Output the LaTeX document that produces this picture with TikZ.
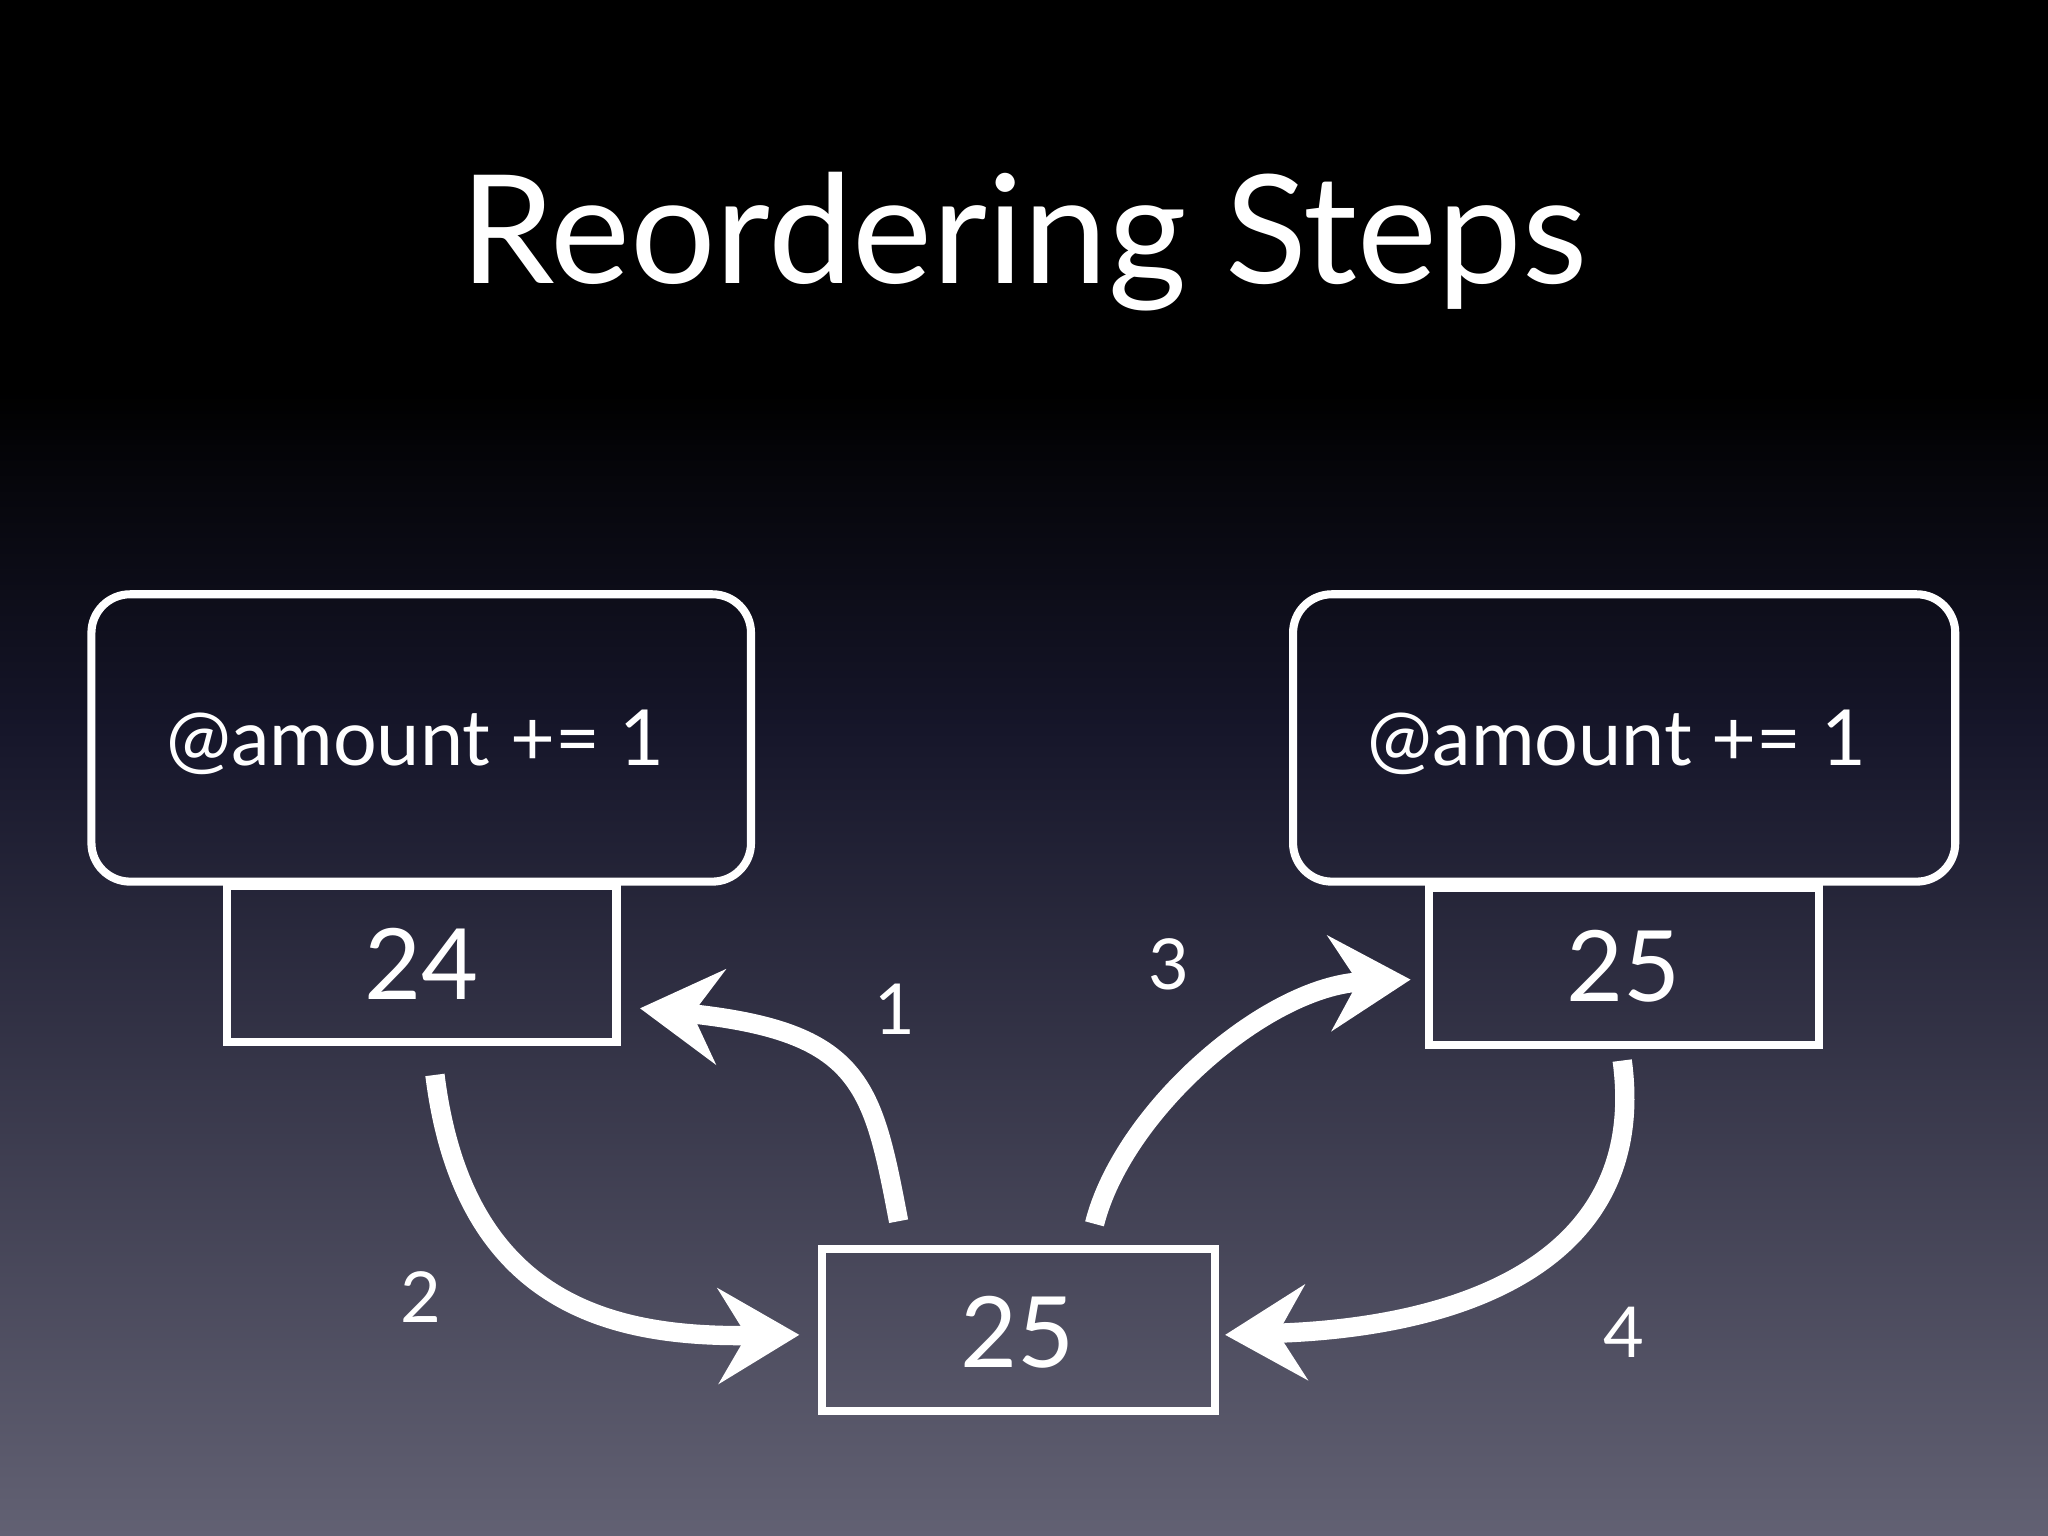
\documentclass[tikz,border=0pt]{standalone}
\usepackage{fontspec}
\setmainfont{Lato}
\usetikzlibrary{arrows.meta}
\definecolor{bgmid}{RGB}{22,22,42}
\definecolor{bgbot}{RGB}{98,97,115}
\tikzset{
  bigbox/.style={draw=white, line width=2.3pt, rounded corners=11pt},
  valbox/.style={draw=white, line width=2.3pt},
  flow/.style={draw=white, line width=5.5pt, -{Stealth[length=23pt,width=27pt,inset=8pt,fill=white]}},
  lbl/.style={text=white, font=\fontsize{20}{24}\selectfont},
}
\begin{document}
\begin{tikzpicture}[x=0.013061cm,y=-0.013061cm]
\useasboundingbox (0,0) rectangle (1568,1176);
\fill[black] (0,0) rectangle (1568,300);
\shade[top color=black, bottom color=bgmid] (0,299) rectangle (1568,560);
\shade[top color=bgmid, bottom color=bgbot] (0,559) rectangle (1568,1176);
\node[text=white, font=\fontsize{43}{50}\selectfont] (title) at (784,185) {Reordering Steps};
% left
\draw[bigbox] (70,455) rectangle (575,675);
\node[text=white, font=\fontsize{22}{26}\selectfont] (tl) at (318,568) {@amount += 1};
\draw[valbox] (174,678) rectangle (472,798);
\node[text=white, font=\fontsize{28}{32}\selectfont] (v24) at (323,738) {24};
% right
\draw[bigbox] (990,455) rectangle (1497,675);
\node[text=white, font=\fontsize{22}{26}\selectfont] (tr) at (1238,568) {@amount += 1};
\draw[valbox] (1094,680) rectangle (1393,800);
\node[text=white, font=\fontsize{28}{32}\selectfont] (v25r) at (1243,740) {25};
% bottom
\draw[valbox] (629,956) rectangle (930,1080);
\node[text=white, font=\fontsize{28}{32}\selectfont] (v25) at (779,1020) {25};
% arrows
\coordinate (a1s) at (688,935); \coordinate (a1e) at (490,772);
\coordinate (a2s) at (333,823); \coordinate (a2e) at (612,1022);
\coordinate (a3s) at (838,937); \coordinate (a3e) at (1080,750);
\coordinate (a4s) at (1242,812); \coordinate (a4e) at (938,1022);
\draw[flow] (a1s) .. controls (668,830) and (660,790) .. (a1e);
\draw[flow] (a2s) .. controls (355,1000) and (470,1024) .. (a2e);
\draw[flow] (a3s) .. controls (860,850) and (970,755) .. (a3e);
\draw[flow] (a4s) .. controls (1262,960) and (1130,1016) .. (a4e);
\node[lbl] (l1) at (685,773) {1};
\node[lbl] (l2) at (322,993) {2};
\node[lbl] (l3) at (895,738) {3};
\node[lbl] (l4) at (1243,1020) {4};
\end{tikzpicture}
\end{document}
